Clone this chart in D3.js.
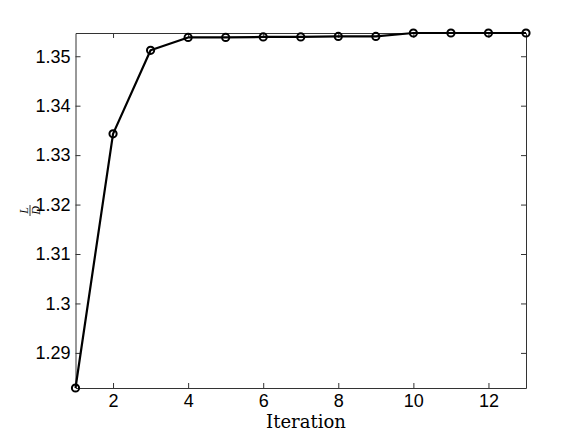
<!DOCTYPE html>
<html>
<head>
<meta charset="utf-8">
<script src="https://cdn.jsdelivr.net/npm/d3@7"></script>
<style>
  body { margin: 0; background: #fff; }
  svg { display: block; }
</style>
</head>
<body>
<div id="chart"></div>
<script>
// values
const iterations = [1, 2, 3, 4, 5, 6, 7, 8, 9, 10, 11, 12, 13];
const ratio = [1.2829, 1.3343, 1.3512, 1.3538, 1.3538, 1.3539, 1.3539, 1.3540, 1.3540, 1.3547, 1.3547, 1.3547, 1.3547];
const xTicks = [2, 4, 6, 8, 10, 12];
const yTicks = [1.29, 1.3, 1.31, 1.32, 1.33, 1.34, 1.35];

const width = 581;
const height = 436;
const axLeft = 75.5, axRight = 526, axTop = 33, axBottom = 388;

const svg = d3.select("#chart").append("svg")
  .attr("width", width)
  .attr("height", height);

const x = d3.scaleLinear().domain([1, 13]).range([axLeft, axRight]);
const y = d3.scaleLinear().domain([d3.min(ratio), d3.max(ratio)]).range([axBottom, axTop]);

const tickFont = "'Liberation Sans', Arial, Helvetica, sans-serif";
const axisCol = "#333";

// box + inward ticks, matlab style
function styleAxis(g) {
  g.select(".domain").attr("stroke", axisCol).attr("stroke-width", 1);
  g.selectAll(".tick line").attr("stroke", axisCol);
  g.selectAll("text").attr("font-family", tickFont).attr("font-size", 18).attr("fill", "#000");
}

svg.append("g")
  .attr("transform", `translate(0,${axBottom})`)
  .call(d3.axisBottom(x).tickValues(xTicks).tickSize(-5).tickSizeOuter(0).tickPadding(6).tickFormat(d3.format("d")))
  .call(styleAxis);

svg.append("g")
  .attr("transform", `translate(0,${axTop})`)
  .call(d3.axisTop(x).tickValues(xTicks).tickSize(-5).tickSizeOuter(0).tickFormat(""))
  .call(styleAxis);

svg.append("g")
  .attr("transform", `translate(${axLeft},0)`)
  .call(d3.axisLeft(y).tickValues(yTicks).tickSize(-5).tickSizeOuter(0).tickPadding(5).tickFormat(d => String(+d.toFixed(2))))
  .call(styleAxis);

svg.append("g")
  .attr("transform", `translate(${axRight},0)`)
  .call(d3.axisRight(y).tickValues(yTicks).tickSize(-5).tickSizeOuter(0).tickFormat(""))
  .call(styleAxis);

const pts = iterations.map((it, i) => [it, ratio[i]]);

svg.append("path")
  .datum(pts)
  .attr("fill", "none")
  .attr("stroke", "#000")
  .attr("stroke-width", 2.2)
  .attr("stroke-linejoin", "round")
  .attr("d", d3.line().x(d => x(d[0])).y(d => y(d[1])));

svg.append("g")
  .selectAll("circle")
  .data(pts)
  .join("circle")
  .attr("cx", d => x(d[0]))
  .attr("cy", d => y(d[1]))
  .attr("r", 3.6)
  .attr("fill", "none")
  .attr("stroke", "#000")
  .attr("stroke-width", 2);

// x label
svg.append("text")
  .attr("x", 306)
  .attr("y", 428)
  .attr("text-anchor", "middle")
  .attr("font-family", "'DejaVu Serif', 'Liberation Serif', serif")
  .attr("font-size", 18)
  .attr("font-weight", "300")
  .text("Iteration");

// y label: L over D fraction, rotated
const yl = svg.append("g")
  .attr("transform", `translate(30,${(axTop + axBottom) / 2}) rotate(-90)`);
yl.append("text")
  .attr("x", 0).attr("y", -2.5)
  .attr("text-anchor", "middle")
  .attr("font-family", "'Liberation Serif', serif")
  .attr("font-style", "italic")
  .attr("font-size", 12)
  .text("L");
yl.append("line")
  .attr("x1", -5.5).attr("x2", 5.5)
  .attr("y1", 0).attr("y2", 0)
  .attr("stroke", "#000").attr("stroke-width", 0.8);
yl.append("text")
  .attr("x", 0).attr("y", 10)
  .attr("text-anchor", "middle")
  .attr("font-family", "'Liberation Serif', serif")
  .attr("font-style", "italic")
  .attr("font-size", 12)
  .text("D");
</script>
</body>
</html>
